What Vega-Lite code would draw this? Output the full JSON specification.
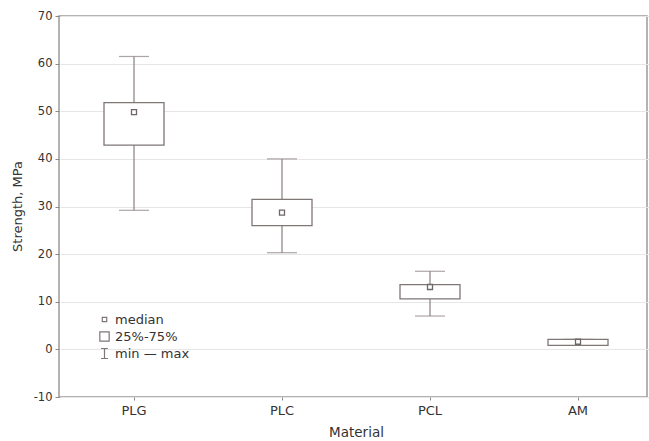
{
  "$schema": "https://vega.github.io/schema/vega-lite/v6.json",
  "width": 588,
  "height": 381,
  "autosize": "none",
  "padding": {"left": 59, "top": 16, "right": 2, "bottom": 44},
  "background": "white",
  "config": {
    "view": {"stroke": "#9a9a9a", "strokeWidth": 1.5},
    "font": "DejaVu Sans",
    "axis": {"labelColor": "#333333", "titleColor": "#333333", "titleFontWeight": "normal", "domain": false, "tickColor": "#8a8a8a"}
  },
  "datasets": {
    "stats": [
      {"Material": "PLG", "min": 29.2, "q1": 42.9, "median": 49.8, "q3": 51.8, "max": 61.5},
      {"Material": "PLC", "min": 20.3, "q1": 26.0, "median": 28.7, "q3": 31.5, "max": 40.0},
      {"Material": "PCL", "min": 7.0, "q1": 10.6, "median": 13.1, "q3": 13.6, "max": 16.4},
      {"Material": "AM", "min": 0.85, "q1": 0.85, "median": 1.6, "q3": 2.1, "max": 2.1}
    ],
    "legend": [
      {"item": "median"},
      {"item": "25%-75%"},
      {"item": "min — max"}
    ]
  },
  "layer": [
    {
      "data": {"name": "stats"},
      "layer": [
        {
          "mark": {"type": "rule", "color": "#8a7f7f", "strokeWidth": 1.2},
          "encoding": {
            "x": {"field": "Material", "type": "nominal"},
            "y": {"field": "min", "type": "quantitative"},
            "y2": {"field": "max"}
          }
        },
        {
          "mark": {"type": "tick", "color": "#8a7f7f", "size": 30, "thickness": 1.2},
          "encoding": {
            "x": {"field": "Material", "type": "nominal"},
            "y": {"field": "min", "type": "quantitative"}
          }
        },
        {
          "mark": {"type": "tick", "color": "#8a7f7f", "size": 30, "thickness": 1.2},
          "encoding": {
            "x": {"field": "Material", "type": "nominal"},
            "y": {"field": "max", "type": "quantitative"}
          }
        },
        {
          "mark": {"type": "bar", "fill": "white", "stroke": "#7f7676", "strokeWidth": 1.3, "size": 60},
          "encoding": {
            "x": {"field": "Material", "type": "nominal"},
            "y": {"field": "q1", "type": "quantitative"},
            "y2": {"field": "q3"}
          }
        },
        {
          "mark": {"type": "point", "shape": "square", "size": 25, "filled": false, "fill": "white", "stroke": "#6f6666", "strokeWidth": 1.3, "opacity": 1},
          "encoding": {
            "x": {"field": "Material", "type": "nominal"},
            "y": {"field": "median", "type": "quantitative"}
          }
        }
      ]
    },
    {
      "data": {"name": "legend"},
      "mark": {"type": "point", "filled": false, "color": "#7f7676", "opacity": 0},
      "encoding": {
        "shape": {
          "field": "item",
          "type": "nominal",
          "scale": {
            "domain": ["median", "25%-75%", "min — max"],
            "range": [
              "M-0.26,-0.26H0.26V0.26H-0.26Z",
              "M-0.55,-0.55H0.55V0.55H-0.55Z",
              "M-0.41,-0.59H0.41M0,-0.59V0.59M-0.41,0.59H0.41"
            ]
          },
          "legend": {
            "title": null,
            "orient": "none",
            "legendX": 36,
            "legendY": 294,
            "symbolSize": 289,
            "symbolOpacity": 1,
            "symbolFillColor": "white",
            "symbolStrokeColor": "#7f7676",
            "symbolStrokeWidth": 1.2,
            "labelFontSize": 13,
            "labelColor": "#333333",
            "labelFont": "DejaVu Sans",
            "rowPadding": -1,
            "labelOffset": 1
          }
        }
      }
    }
  ],
  "encoding": {
    "x": {
      "field": "Material",
      "type": "nominal",
      "sort": ["PLG", "PLC", "PCL", "AM"],
      "scale": {"domain": ["PLG", "PLC", "PCL", "AM"], "range": [1, 593], "paddingInner": 0, "paddingOuter": 0},
      "axis": {"labelAngle": 0, "grid": false, "tickSize": 3, "labelPadding": 4, "labelFontSize": 13, "title": "Material", "titleFontSize": 13.5, "titleY": 35, "titleBaseline": "middle"}
    },
    "y": {
      "type": "quantitative",
      "scale": {"domain": [-10, 70], "nice": false, "zero": false},
      "axis": {"values": [-10, 0, 10, 20, 30, 40, 50, 60, 70], "labelExpr": "replace(datum.label, '−', '-')", "gridColor": "#e6e6e6", "tickSize": 4, "labelPadding": 3, "labelFontSize": 11.5, "title": "Strength, MPa", "titleFontSize": 13, "titleX": -42, "titleY": 190, "titleAlign": "center", "titleBaseline": "middle", "titleAngle": -90}
    }
  }
}
